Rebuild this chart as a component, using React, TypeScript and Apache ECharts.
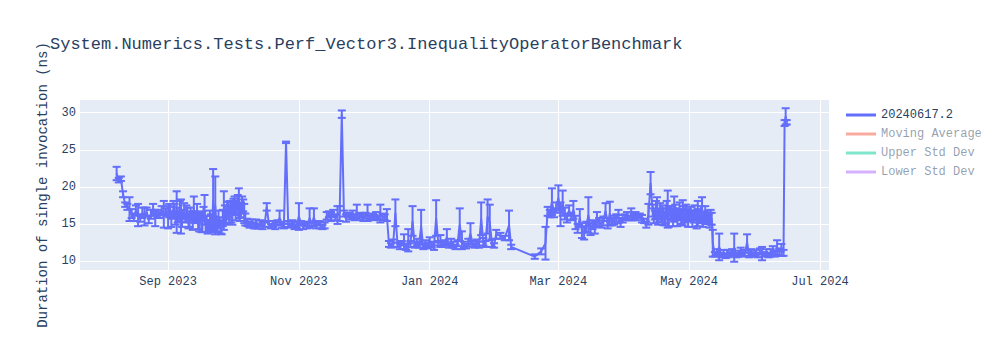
import React, { useEffect, useRef } from "react";
import * as echarts from "echarts";

const chartTitle = "System.Numerics.Tests.Perf_Vector3.InequalityOperatorBenchmark";
const yAxisTitle = "Duration of single invocation (ns)";
const seriesName = "20240617.2";
const seriesColor = "#636efa";
const hiddenSeriesNames = ["Moving Average", "Upper Std Dev", "Lower Std Dev"];
const hiddenSeriesColors = ["#f7aa9d", "#80e6cb", "#d5b1fd"];

const xTickDates = ["2023-09-01", "2023-11-01", "2024-01-01", "2024-03-01", "2024-05-01", "2024-07-01"];
const xTickLabels = ["Sep 2023", "Nov 2023", "Jan 2024", "Mar 2024", "May 2024", "Jul 2024"];
const xRange = ["2023-07-21T22:00:00Z", "2024-07-05T05:00:00Z"];
const yTicks = [10, 15, 20, 25, 30];
const yRange = [8.79, 31.71];

const H = "T12:00:00Z";

const runDates: string[] = [
  // Aug 2023
  "2023-08-08", "2023-08-09", "2023-08-10", "2023-08-11", "2023-08-12", "2023-08-13", "2023-08-14", "2023-08-15", "2023-08-16", "2023-08-17",
  "2023-08-18", "2023-08-19", "2023-08-20", "2023-08-21", "2023-08-22", "2023-08-23", "2023-08-24", "2023-08-25", "2023-08-26", "2023-08-27",
  "2023-08-28", "2023-08-29", "2023-08-30", "2023-08-31",
  // Sep 2023 (two runs a day)
  "2023-09-01", "2023-09-01" + H, "2023-09-02", "2023-09-02" + H, "2023-09-03", "2023-09-03" + H, "2023-09-04", "2023-09-04" + H, "2023-09-05", "2023-09-05" + H,
  "2023-09-06", "2023-09-06" + H, "2023-09-07", "2023-09-07" + H, "2023-09-08", "2023-09-08" + H, "2023-09-09", "2023-09-09" + H, "2023-09-10", "2023-09-10" + H,
  "2023-09-11", "2023-09-11" + H, "2023-09-12", "2023-09-12" + H, "2023-09-13", "2023-09-13" + H, "2023-09-14", "2023-09-14" + H, "2023-09-15", "2023-09-15" + H,
  "2023-09-16", "2023-09-16" + H, "2023-09-17", "2023-09-17" + H, "2023-09-18", "2023-09-18" + H, "2023-09-19", "2023-09-19" + H, "2023-09-20", "2023-09-20" + H,
  "2023-09-21", "2023-09-21" + H, "2023-09-22", "2023-09-22" + H, "2023-09-23", "2023-09-23" + H, "2023-09-24", "2023-09-24" + H, "2023-09-25", "2023-09-25" + H,
  "2023-09-26", "2023-09-26" + H, "2023-09-27", "2023-09-27" + H, "2023-09-28", "2023-09-28" + H, "2023-09-29", "2023-09-29" + H, "2023-09-30", "2023-09-30" + H,
  // Oct 2023
  "2023-10-01", "2023-10-01" + H, "2023-10-02", "2023-10-02" + H, "2023-10-03", "2023-10-03" + H, "2023-10-04", "2023-10-04" + H, "2023-10-05", "2023-10-05" + H,
  "2023-10-06", "2023-10-06" + H,
  "2023-10-07", "2023-10-08", "2023-10-09", "2023-10-10", "2023-10-11", "2023-10-12", "2023-10-13", "2023-10-14", "2023-10-15", "2023-10-16",
  "2023-10-17", "2023-10-18", "2023-10-19", "2023-10-20", "2023-10-21", "2023-10-22", "2023-10-23", "2023-10-24", "2023-10-25", "2023-10-26",
  "2023-10-27", "2023-10-28", "2023-10-29", "2023-10-30", "2023-10-31",
  // Nov 2023
  "2023-11-01", "2023-11-02", "2023-11-03", "2023-11-04", "2023-11-05", "2023-11-06", "2023-11-07", "2023-11-08", "2023-11-09", "2023-11-10",
  "2023-11-11", "2023-11-12", "2023-11-13", "2023-11-14", "2023-11-15", "2023-11-16", "2023-11-17", "2023-11-18", "2023-11-19", "2023-11-20",
  "2023-11-21", "2023-11-22", "2023-11-23", "2023-11-24", "2023-11-25", "2023-11-26", "2023-11-27", "2023-11-28", "2023-11-29", "2023-11-30",
  // Dec 2023
  "2023-12-01", "2023-12-02", "2023-12-03", "2023-12-04", "2023-12-05", "2023-12-06", "2023-12-07", "2023-12-08", "2023-12-09", "2023-12-10",
  "2023-12-11", "2023-12-12", "2023-12-13", "2023-12-14", "2023-12-15", "2023-12-16", "2023-12-17", "2023-12-18", "2023-12-19", "2023-12-20",
  "2023-12-21", "2023-12-22", "2023-12-23", "2023-12-24", "2023-12-25", "2023-12-26", "2023-12-27", "2023-12-28", "2023-12-29", "2023-12-30",
  "2023-12-31",
  // Jan 2024
  "2024-01-01", "2024-01-02", "2024-01-03", "2024-01-04", "2024-01-05", "2024-01-06", "2024-01-07", "2024-01-08", "2024-01-09", "2024-01-10",
  "2024-01-11", "2024-01-12", "2024-01-13", "2024-01-14", "2024-01-15", "2024-01-16", "2024-01-17", "2024-01-18", "2024-01-19", "2024-01-20",
  "2024-01-21", "2024-01-22", "2024-01-23", "2024-01-24", "2024-01-25", "2024-01-26", "2024-01-27", "2024-01-28", "2024-01-29", "2024-01-30",
  "2024-01-31",
  // Feb 2024
  "2024-02-01", "2024-02-03", "2024-02-05", "2024-02-07", "2024-02-08", "2024-02-19", "2024-02-22", "2024-02-24", "2024-02-25", "2024-02-26",
  "2024-02-27", "2024-02-28", "2024-02-29",
  // Mar 2024
  "2024-03-01", "2024-03-02", "2024-03-03", "2024-03-04", "2024-03-05", "2024-03-06", "2024-03-07", "2024-03-08", "2024-03-09", "2024-03-10",
  "2024-03-11", "2024-03-12", "2024-03-13", "2024-03-14", "2024-03-15", "2024-03-16", "2024-03-17", "2024-03-18", "2024-03-19", "2024-03-20",
  "2024-03-21", "2024-03-22", "2024-03-23", "2024-03-24", "2024-03-25", "2024-03-26", "2024-03-27", "2024-03-28", "2024-03-29", "2024-03-30",
  "2024-03-31",
  // Apr 2024
  "2024-04-01", "2024-04-02", "2024-04-03", "2024-04-04", "2024-04-05", "2024-04-06", "2024-04-07", "2024-04-08", "2024-04-09", "2024-04-10",
  "2024-04-11", "2024-04-12", "2024-04-13",
  "2024-04-14", "2024-04-14" + H, "2024-04-15", "2024-04-15" + H, "2024-04-16", "2024-04-16" + H, "2024-04-17", "2024-04-17" + H, "2024-04-18", "2024-04-18" + H,
  "2024-04-19", "2024-04-19" + H, "2024-04-20", "2024-04-20" + H, "2024-04-21", "2024-04-21" + H, "2024-04-22", "2024-04-22" + H, "2024-04-23", "2024-04-23" + H,
  "2024-04-24", "2024-04-24" + H, "2024-04-25", "2024-04-25" + H, "2024-04-26", "2024-04-26" + H, "2024-04-27", "2024-04-27" + H, "2024-04-28", "2024-04-28" + H,
  "2024-04-29", "2024-04-29" + H, "2024-04-30", "2024-04-30" + H,
  // May 2024
  "2024-05-01", "2024-05-01" + H, "2024-05-02", "2024-05-02" + H, "2024-05-03", "2024-05-03" + H, "2024-05-04", "2024-05-04" + H, "2024-05-05", "2024-05-05" + H,
  "2024-05-06", "2024-05-06" + H, "2024-05-07", "2024-05-07" + H, "2024-05-08", "2024-05-08" + H, "2024-05-09", "2024-05-09" + H, "2024-05-10", "2024-05-10" + H,
  "2024-05-11", "2024-05-11" + H,
  "2024-05-12", "2024-05-13", "2024-05-14", "2024-05-15", "2024-05-16", "2024-05-17", "2024-05-18", "2024-05-19", "2024-05-20", "2024-05-21",
  "2024-05-22", "2024-05-23", "2024-05-24", "2024-05-25", "2024-05-26", "2024-05-27", "2024-05-28", "2024-05-29", "2024-05-30", "2024-05-31",
  // Jun 2024
  "2024-06-01", "2024-06-02", "2024-06-03", "2024-06-04", "2024-06-05", "2024-06-06", "2024-06-07", "2024-06-08", "2024-06-09", "2024-06-10",
  "2024-06-11", "2024-06-12", "2024-06-13", "2024-06-14", "2024-06-14" + H, "2024-06-15", "2024-06-15" + H,
];

const durations: number[] = [
  // Aug
  21.8, 20.9, 21.1, 19.0, 17.6, 17.3, 17.0, 16.4, 15.9, 16.8,
  16.2, 15.8, 16.5, 16.0, 16.6, 15.6, 16.3, 16.9, 15.8, 16.4,
  16.2, 16.8, 16.3, 16.6,
  // Sep
  15.9, 16.8, 16.7, 15.6, 16.2, 17.0, 16.9, 15.8, 16.6, 16.2,
  15.9, 16.9, 16.0, 15.4, 16.3, 16.8, 15.7, 16.4, 16.5, 15.3,
  15.5, 16.2, 16.1, 15.4, 17.1, 15.9, 15.8, 16.6, 15.2, 14.8,
  16.0, 15.1, 15.3, 16.4, 16.9, 15.0, 15.0, 14.6, 14.6, 15.5,
  15.4, 14.7, 18.2, 15.0, 17.5, 14.6, 14.8, 15.6, 15.3, 14.5,
  14.5, 15.8, 16.8, 16.2, 15.9, 17.0, 16.8, 16.3, 17.2, 16.6,
  // Oct
  16.5, 17.4, 17.6, 16.8, 17.0, 17.9, 17.8, 16.6, 16.9, 17.6,
  17.5, 16.4,
  15.6, 15.2, 14.9, 15.1, 14.8, 15.0, 14.7, 15.1, 14.8, 14.9,
  17.3, 15.0, 14.7, 15.0, 14.8, 15.2, 15.8, 14.9, 14.7, 26.0,
  15.0, 14.8, 15.1, 14.8, 14.9,
  // Nov
  16.0, 15.1, 14.7, 15.0, 14.8, 15.8, 15.0, 15.9, 14.8, 15.1,
  14.9, 14.6, 14.8, 16.1, 16.3, 16.0, 16.4, 15.9, 16.2, 16.4,
  29.8, 16.4, 15.8, 16.2, 16.0, 16.3, 15.9, 16.6, 16.0, 16.2,
  // Dec
  15.9, 16.1, 16.5, 15.8, 16.0, 15.9, 16.1, 15.8, 16.4, 16.0,
  15.9, 16.2, 12.3, 12.1, 12.4, 16.5, 12.2, 12.0, 12.4, 12.6,
  11.9, 12.8, 12.3, 15.4, 12.1, 12.5, 12.2, 14.6, 11.9, 12.3,
  12.1,
  // Jan
  12.6, 12.2, 12.0, 15.8, 12.4, 12.7, 12.3, 12.5, 13.2, 12.1,
  12.5, 12.2, 11.9, 12.4, 14.9, 12.8, 12.2, 12.0, 12.5, 13.7,
  12.3, 12.1, 12.4, 12.2, 15.7, 12.6, 12.3, 16.0, 15.2, 12.4,
  12.1,
  // Feb
  13.6, 13.4, 13.1, 14.8, 11.9, 10.6, 11.3, 12.4, 16.7, 16.4,
  18.0, 16.5, 17.2,
  // Mar
  18.5, 16.3, 17.8, 16.4, 15.8, 16.8, 16.0, 16.9, 15.2, 14.4,
  15.8, 14.1, 13.8, 14.6, 16.2, 14.3, 14.9, 14.5, 15.6, 15.2,
  15.0, 15.4, 16.8, 14.9, 16.4, 15.3, 15.5, 15.8, 16.0, 15.2,
  15.7,
  // Apr
  15.9, 16.1, 15.8, 16.3, 16.0, 16.2, 15.9, 16.1, 15.7, 15.4,
  14.9, 16.3, 20.5,
  16.8, 16.1, 16.2, 16.9, 16.9, 15.8, 16.4, 16.7, 15.9, 16.2,
  16.6, 15.7, 16.1, 16.9, 17.0, 16.0, 16.8, 16.5, 16.2, 15.9,
  17.0, 16.6, 16.5, 15.8, 16.1, 16.7, 16.4, 15.9, 16.5, 16.3,
  15.9, 16.6, 16.3, 15.8,
  // May
  16.0, 16.4, 16.3, 15.7, 15.8, 16.5, 16.2, 15.6, 16.4, 16.1,
  15.7, 16.3, 16.9, 15.6, 16.0, 16.2, 15.6, 15.9, 15.8, 15.5,
  15.9, 15.7,
  12.4, 10.9, 11.2, 11.9, 10.8, 11.1, 10.7, 11.0, 10.9, 11.2,
  11.8, 10.8, 11.0, 11.3, 10.9, 11.1, 12.5, 10.8, 11.2, 10.9,
  // Jun
  11.1, 10.8, 11.3, 11.0, 10.9, 11.2, 10.8, 11.1, 11.4, 11.0,
  11.8, 11.2, 11.5, 11.1, 28.6, 29.5, 28.7,
];

const stdDevs: number[] = [
  // Aug
  0.9, 0.3, 0.3, 0.4, 0.3, 0.4, 1.6, 0.6, 0.5, 0.7,
  1.5, 0.5, 0.7, 1.2, 0.6, 0.5, 0.6, 0.8, 1.1, 0.5,
  0.4, 0.6, 1.8, 0.5,
  // Sep
  1.5, 0.9, 0.6, 1.0, 0.5, 1.1, 0.8, 0.9, 2.8, 1.0,
  0.6, 1.2, 2.3, 0.8, 0.6, 1.0, 0.5, 1.1, 0.7, 0.9,
  0.9, 1.0, 0.6, 1.2, 1.6, 0.8, 0.6, 1.1, 0.9, 0.8,
  0.5, 1.2, 1.4, 0.9, 2.0, 1.1, 1.1, 0.9, 0.7, 1.3,
  0.9, 0.8, 4.2, 1.0, 3.9, 0.7, 0.8, 1.2, 0.6, 0.8,
  0.9, 1.1, 2.6, 1.3, 0.8, 1.0, 1.2, 1.2, 0.9, 1.4,
  // Oct
  1.6, 1.0, 1.1, 1.3, 0.8, 1.0, 2.0, 1.2, 1.0, 1.1,
  0.8, 1.3,
  0.8, 0.5, 0.4, 0.5, 0.4, 0.6, 0.3, 0.4, 0.5, 0.3,
  0.5, 0.4, 0.3, 0.4, 0.5, 0.3, 1.0, 0.4, 0.3, 0.1,
  0.4, 0.3, 0.4, 0.5, 0.4,
  // Nov
  1.8, 0.3, 0.4, 0.3, 0.4, 1.3, 0.3, 1.2, 0.4, 0.3,
  0.5, 0.3, 0.4, 0.5, 0.4, 0.6, 0.5, 0.4, 1.2, 1.0,
  0.5, 0.4, 0.5, 0.3, 0.4, 0.5, 0.4, 1.0, 0.4, 0.3,
  // Dec
  0.5, 0.4, 1.1, 0.3, 0.4, 0.3, 0.5, 0.3, 1.2, 0.4,
  0.4, 0.8, 0.4, 0.3, 0.5, 1.8, 0.3, 0.4, 0.3, 1.0,
  0.4, 1.5, 0.4, 2.0, 0.3, 0.5, 0.4, 2.3, 0.3, 0.5,
  0.4,
  // Jan
  0.6, 0.4, 0.5, 2.4, 0.3, 0.8, 0.4, 0.3, 1.1, 0.3,
  0.5, 0.4, 0.3, 0.4, 2.2, 1.2, 0.4, 0.3, 0.5, 1.4,
  0.4, 0.3, 0.5, 0.4, 2.2, 0.5, 0.4, 2.3, 2.4, 0.5,
  0.3,
  // Feb
  0.6, 0.4, 0.3, 2.0, 0.3, 0.3, 0.4, 2.2, 0.6, 0.5,
  1.8, 0.6, 0.7,
  // Mar
  1.7, 1.6, 1.7, 0.8, 0.6, 0.7, 0.5, 1.2, 0.9, 0.6,
  1.2, 1.0, 0.9, 0.7, 2.4, 0.8, 0.6, 0.8, 1.0, 0.6,
  0.5, 0.6, 1.0, 0.5, 1.6, 0.5, 0.6, 0.5, 0.9, 0.6,
  0.5,
  // Apr
  0.4, 0.5, 0.3, 0.8, 0.5, 0.4, 0.4, 0.3, 0.5, 0.3,
  0.4, 1.4, 1.5,
  0.8, 1.0, 0.6, 1.2, 1.7, 0.9, 0.7, 1.1, 0.6, 1.3,
  0.5, 0.9, 1.0, 1.2, 2.5, 1.4, 0.6, 0.9, 0.7, 1.2,
  1.7, 1.0, 0.6, 1.1, 0.5, 1.2, 0.6, 0.9, 1.7, 1.1,
  0.5, 1.0, 0.6, 1.2,
  // May
  0.6, 0.9, 0.5, 1.1, 0.6, 1.0, 0.5, 1.2, 1.7, 0.9,
  0.6, 1.1, 1.7, 1.0, 0.5, 1.2, 0.6, 0.9, 0.5, 1.0,
  1.0, 0.8,
  1.8, 0.3, 0.4, 1.8, 0.3, 0.4, 0.3, 0.5, 0.3, 0.4,
  1.9, 0.3, 0.4, 0.5, 0.3, 0.4, 1.1, 0.3, 0.4, 0.3,
  // Jun
  0.4, 0.3, 0.4, 0.9, 0.3, 0.4, 0.3, 0.5, 0.6, 0.4,
  1.0, 0.5, 0.8, 0.4, 0.4, 1.1, 0.3,
];

const FONT = "'Liberation Mono', 'Courier New', monospace";
const TEXT = "#2a3f5f";

export default function App() {
  const ref = useRef<HTMLDivElement>(null);

  useEffect(() => {
    document.body.style.margin = "0";
    if (!ref.current) return;
    const chart = echarts.init(ref.current, null, { renderer: "svg" });

    const n = Math.min(runDates.length, durations.length, stdDevs.length);
    const lineData: number[][] = [];
    const errData: number[][] = [];
    for (let i = 0; i < n; i++) {
      const t = Date.parse(runDates[i]);
      lineData.push([t, durations[i]]);
      errData.push([t, durations[i] - stdDevs[i], durations[i] + stdDevs[i]]);
    }
    const xTicks = xTickDates.map((d) => Date.parse(d));

    const option: any = {
      animation: false,
      backgroundColor: "#ffffff",
      textStyle: { fontFamily: FONT, color: TEXT },
      title: {
        text: chartTitle,
        left: 50,
        top: 36,
        padding: 0,
        textStyle: { fontFamily: FONT, fontSize: 17, fontWeight: "normal", color: TEXT },
      },
      legend: {
        orient: "vertical",
        left: 846,
        top: 108,
        padding: 0,
        itemGap: 5,
        itemWidth: 30,
        itemHeight: 3,
        icon: "rect",
        selectedMode: false,
        textStyle: { fontFamily: FONT, fontSize: 12, color: TEXT, lineHeight: 14 },
        data: [
          { name: seriesName, itemStyle: { color: seriesColor } },
          ...hiddenSeriesNames.map((name, i) => ({
            name,
            itemStyle: { color: hiddenSeriesColors[i] },
            textStyle: { color: "rgba(42,63,95,0.5)" },
          })),
        ],
      },
      grid: {
        left: 80,
        right: 171,
        top: 100,
        bottom: 80,
        show: true,
        backgroundColor: "#e5ecf6",
        borderWidth: 0,
      },
      xAxis: {
        type: "value",
        min: Date.parse(xRange[0]),
        max: Date.parse(xRange[1]),
        axisLine: { show: false },
        axisTick: { show: false, customValues: xTicks },
        splitLine: { show: true, lineStyle: { color: "#ffffff", width: 1 } },
        axisLabel: {
          customValues: xTicks,
          formatter: (v: number) => {
            const idx = xTicks.findIndex((t) => Math.abs(t - v) < 1000);
            return idx >= 0 ? xTickLabels[idx] : "";
          },
          color: TEXT,
          fontFamily: FONT,
          fontSize: 12,
          margin: 6,
        },
      },
      yAxis: {
        type: "value",
        min: yRange[0],
        max: yRange[1],
        name: yAxisTitle,
        nameLocation: "middle",
        nameGap: 30,
        nameTextStyle: { fontFamily: FONT, fontSize: 14, color: TEXT },
        axisLine: { show: false },
        axisTick: { show: false, customValues: yTicks },
        splitLine: { show: true, lineStyle: { color: "#ffffff", width: 1 } },
        axisLabel: {
          customValues: yTicks,
          color: TEXT,
          fontFamily: FONT,
          fontSize: 12,
          margin: 4,
        },
      },
      series: [
        {
          name: "errorBars",
          type: "custom",
          data: errData,
          encode: { x: 0, y: [1, 2] },
          renderItem: (params: any, api: any) => {
            const x = api.value(0);
            const top = api.coord([x, api.value(2)]);
            const bot = api.coord([x, api.value(1)]);
            const w = 4;
            const style = { stroke: seriesColor, lineWidth: 2, fill: "none" };
            return {
              type: "group",
              children: [
                { type: "line", shape: { x1: top[0], y1: top[1], x2: bot[0], y2: bot[1] }, style },
                { type: "line", shape: { x1: top[0] - w, y1: top[1], x2: top[0] + w, y2: top[1] }, style },
                { type: "line", shape: { x1: bot[0] - w, y1: bot[1], x2: bot[0] + w, y2: bot[1] }, style },
              ],
            };
          },
          z: 2,
        },
        {
          name: seriesName,
          type: "line",
          data: lineData,
          showSymbol: false,
          color: seriesColor,
          lineStyle: { color: seriesColor, width: 2 },
          z: 3,
        },
        ...hiddenSeriesNames.map((name, i) => ({
          name,
          type: "line",
          data: [],
          color: hiddenSeriesColors[i],
        })),
      ],
    };

    chart.setOption(option);
    return () => chart.dispose();
  }, []);

  return <div ref={ref} style={{ width: 1000, height: 350 }} />;
}
